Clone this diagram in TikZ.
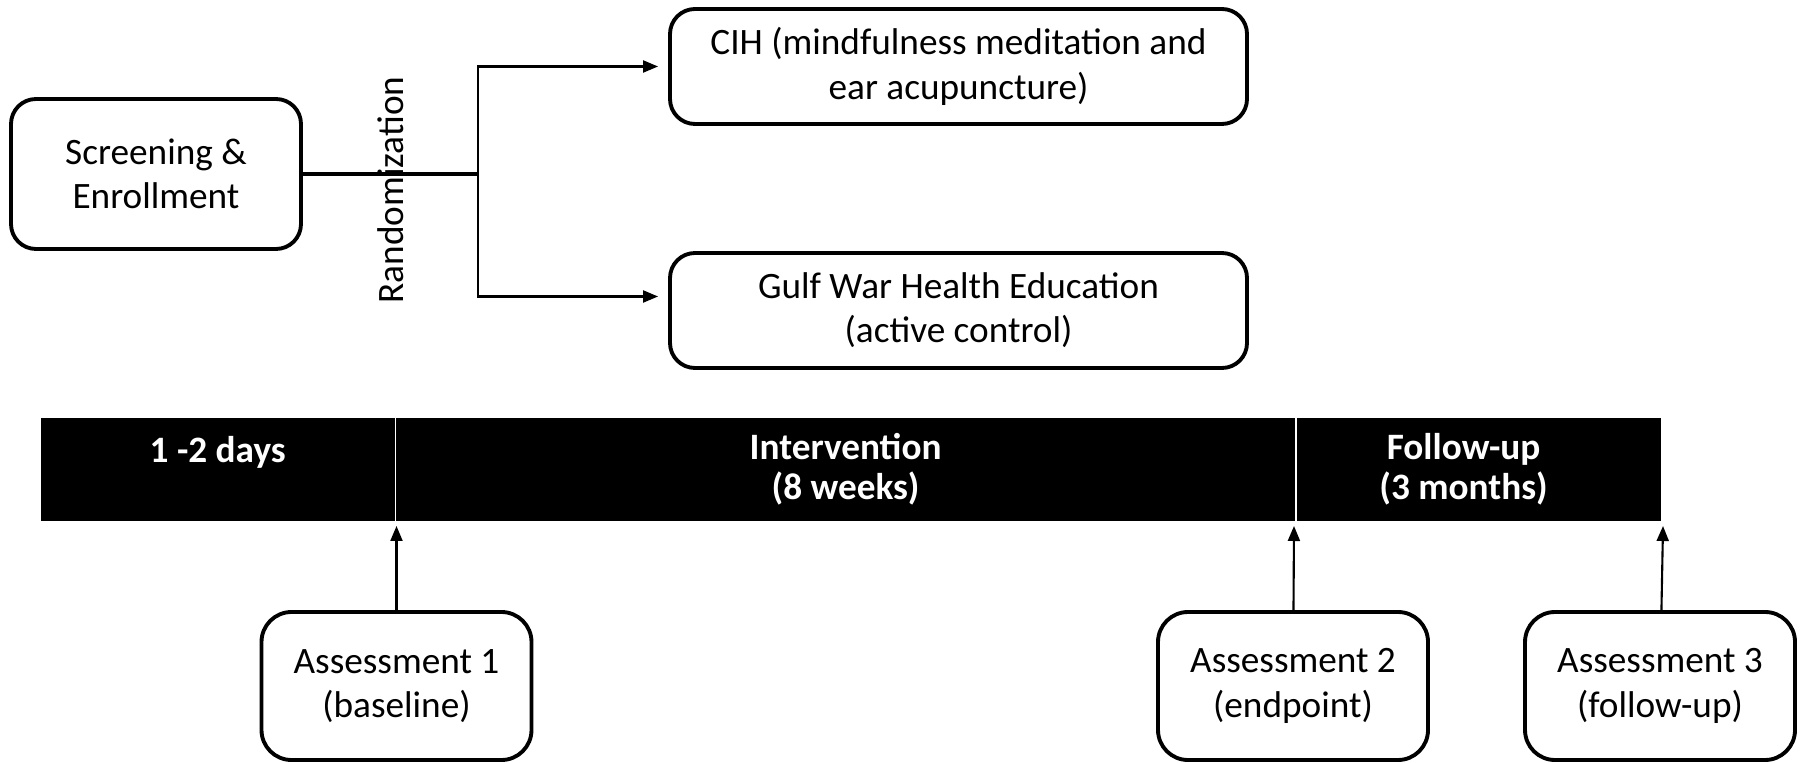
\documentclass[tikz,border=0pt]{standalone}
\usepackage{fontspec}
\setmainfont{Carlito}
\usetikzlibrary{arrows.meta}
\begin{document}
\begin{tikzpicture}[>={Triangle[length=1.5mm,width=1.2mm]},
    every node/.style={font=\fontsize{10.6}{12.6}\selectfont},
    box/.style={draw,line width=1.1pt,rounded corners=2.5mm,align=center},
    phase/.style={fill=black,text=white,align=center,anchor=north west,
        minimum height=1.03cm,inner sep=0pt,font=\bfseries\fontsize{10.6}{11.5}\selectfont}]
        \useasboundingbox (0,0) rectangle (18.02,-7.63);
        % groups
        \node[box,minimum width=2.9cm,minimum height=1.5cm] (scr) at (1.56,-1.74) {Screening \&\\Enrollment};
        \node[box,minimum width=5.77cm,minimum height=1.15cm] (cih) at (9.585,-0.665) {CIH (mindfulness meditation and\\ear acupuncture)};
        \node[box,minimum width=5.77cm,minimum height=1.15cm] (gwe) at (9.585,-3.105) {Gulf War Health Education\\(active control)};
        \node[rotate=90] (rand) at (3.91,-1.90) {Randomization};
        \coordinate (br) at (4.78,-1.74);
        \draw[line width=0.9pt] (scr)--(br);
        \draw[->,line width=0.6pt,shorten >=1mm] (br)|-(cih.west);
        \draw[->,line width=0.6pt,shorten >=1mm] (br)|-([yshift=1.4mm]gwe.west);
        % timeline
        \node[phase,minimum width=3.54cm] (days) at (0.40,-4.17) {1 -2 days\\\mbox{}};
        \node[phase,minimum width=8.99cm] (int) at (days.north east) {Intervention\\(8 weeks)};
        \node[phase,minimum width=3.64cm,xshift=0cm] (fu) at (int.north east) {Follow-up\hspace*{3mm}\\(3 months)\hspace*{3mm}};
        \draw[white,line width=0.5pt] (days.north east)--(days.south east);
        \draw[white,line width=0.5pt] (int.north east)--(int.south east);
        % assessments
        \node[box,rounded corners=3mm,minimum width=2.7cm,minimum height=1.48cm] (a1) at (3.965,-6.86) {Assessment 1\\(baseline)};
        \node[box,rounded corners=3mm,minimum width=2.7cm,minimum height=1.48cm] (a2) at (12.93,-6.86) {Assessment 2\\(endpoint)};
        \node[box,rounded corners=3mm,minimum width=2.7cm,minimum height=1.48cm] (a3) at (16.60,-6.86) {Assessment 3\\(follow-up)};
        \coordinate (t1) at (3.965,-5.26);
        \coordinate (t2) at (12.94,-5.26);
        \coordinate (t3) at (16.63,-5.26);
        \draw[->,line width=0.6pt] (a1)--(t1);
        \draw[->,line width=0.6pt] (a2)--(t2);
        \draw[->,line width=0.6pt] (a3)--(t3);
    \end{tikzpicture}
\end{document}
